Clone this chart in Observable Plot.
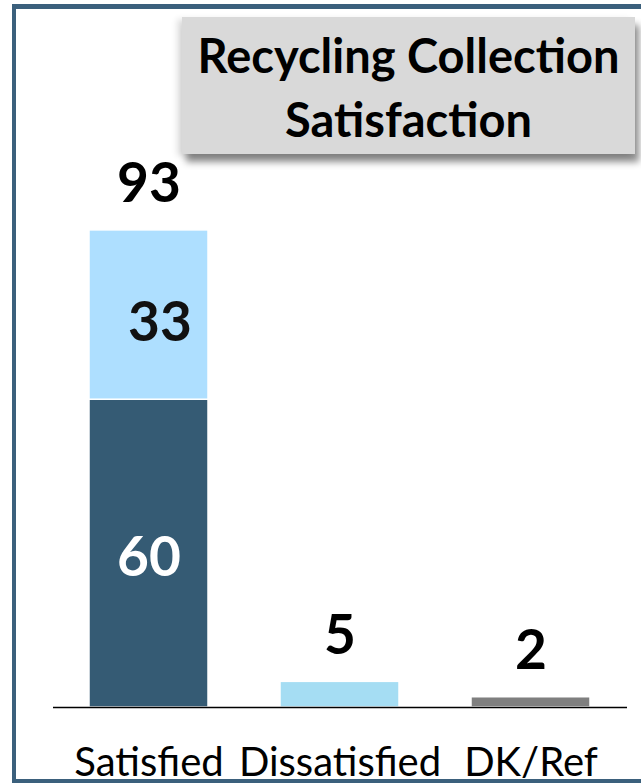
<!DOCTYPE html>
<html>
<head>
<meta charset="utf-8">
<script src="https://cdn.jsdelivr.net/npm/d3@7"></script>
<script src="https://cdn.jsdelivr.net/npm/@observablehq/plot@0.6"></script>
<style>
  html, body { margin: 0; padding: 0; background: #fff; }
  #wrap { position: relative; width: 641px; height: 783px; overflow: hidden; background: #fff; }
  #chart { position: absolute; left: 0; top: 0; }
  #frame { position: absolute; left: 12px; top: 4px; width: 700px; height: 779px;
           border: 4px solid #3b607c; border-top-width: 5px; box-sizing: border-box; pointer-events: none; }
  #title { position: absolute; left: 182px; top: 17px; width: 453px; height: 137px;
           background: #d9d9d9; box-sizing: border-box; padding-top: 6px;
           box-shadow: 4px 8px 7px rgba(0,0,0,0.45), -5px 2px 6px rgba(0,0,0,0.12);
           font-family: Lato, "Open Sans", sans-serif; font-weight: 700; font-size: 47px;
           line-height: 64px; text-align: center; color: #000; }
</style>
</head>
<body>
<div id="wrap">
  <div id="chart"></div>
  <div id="frame"></div>
  <div id="title">Recycling Collection<br>Satisfaction</div>
</div>
<script>
// ---- data ----
const categories = ["Satisfied", "Dissatisfied", "DK/Ref"];
const satisfiedParts = ["Very satisfied", "Somewhat satisfied"];
const satisfiedValues = [60, 33];
const dissatisfiedValue = 5;
const dkRefValue = 2;
const totalLabels = [93, 5, 2];

const segmentKeys = ["Very satisfied", "Somewhat satisfied", "Dissatisfied", "DK/Ref"];
const segmentColors = ["#355b74", "#aedfff", "#a5ddf3", "#7f7f7f"];

// table built from the arrays above
const rows = [
  {category: categories[0], part: satisfiedParts[0], value: satisfiedValues[0]},
  {category: categories[0], part: satisfiedParts[1], value: satisfiedValues[1]},
  {category: categories[1], part: "Dissatisfied", value: dissatisfiedValue},
  {category: categories[2], part: "DK/Ref", value: dkRefValue}
];
const totals = categories.map((c, i) => ({category: c, total: totalLabels[i]}));

const chart = Plot.plot({
  width: 641,
  height: 783,
  marginLeft: 53,
  marginRight: 14,
  marginTop: 194,
  marginBottom: 76,
  style: {fontFamily: "Lato, 'Open Sans', sans-serif", background: "transparent"},
  x: {domain: categories, paddingInner: 0.376, paddingOuter: 0.188, axis: null},
  y: {domain: [0, 100], axis: null},
  color: {domain: segmentKeys, range: segmentColors},
  marks: [
    Plot.barY(rows, Plot.stackY({x: "category", y: "value", fill: "part", order: segmentKeys,
      stroke: "white", strokeWidth: 1.5})),
    Plot.ruleY([0], {stroke: "#000", strokeWidth: 1.5}),
    // totals above bars
    Plot.text(totals, {x: "category", y: "total", text: d => String(d.total),
      lineAnchor: "bottom", dy: -28, fontSize: 55, fontWeight: 700, fill: "#000"}),
    // inside labels for the Satisfied stack
    Plot.text(rows, Plot.stackY({x: "category", y: "value", z: "part", order: segmentKeys,
      text: d => d.part === satisfiedParts[1] ? String(d.value) : null,
      dx: 11, dy: 8, fontSize: 55, fontWeight: 700, fill: "#111"})),
    Plot.text(rows, Plot.stackY({x: "category", y: "value", z: "part", order: segmentKeys,
      text: d => d.part === satisfiedParts[0] ? String(d.value) : null,
      dy: 5, fontSize: 55, fontWeight: 700, fill: "#fff"})),
    // category labels
    Plot.text(categories, {x: d => d, y: 0, text: d => d, lineAnchor: "bottom", dy: 68,
      fontSize: 40, fill: "#000"})
  ]
});
document.getElementById("chart").appendChild(chart);
</script>
</body>
</html>
